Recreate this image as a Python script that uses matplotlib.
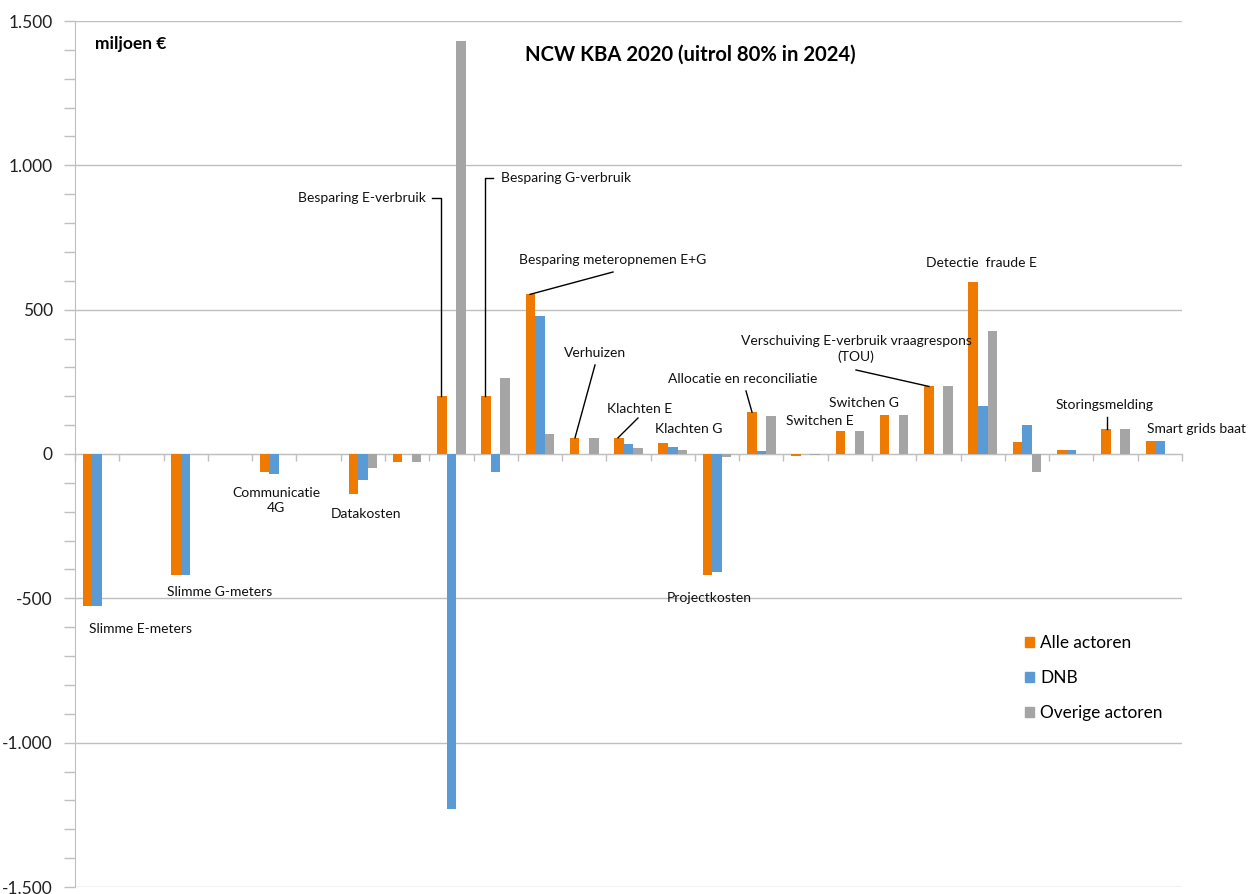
import matplotlib
matplotlib.use("Agg")
import matplotlib.pyplot as plt
from matplotlib.ticker import FixedLocator, FuncFormatter, MultipleLocator
from matplotlib.patches import Patch

plt.rcParams['font.family'] = ['Lato', 'DejaVu Sans']

# ---- data (25 category slots, left to right) ----
categories = ["Slimme E-meters", "", "Slimme G-meters", "", "Communicatie 4G", "",
              "Datakosten", "", "Besparing E-verbruik", "Besparing G-verbruik",
              "Besparing meteropnemen E+G", "Verhuizen", "Klachten E", "Klachten G",
              "Projectkosten", "Allocatie en reconciliatie", "Switchen E", "",
              "Switchen G", "Verschuiving E-verbruik vraagrespons (TOU)",
              "Detectie  fraude E", "", "", "Storingsmelding", "Smart grids baat"]
alle_actoren = [-525, 0, -420, 0, -64, 0, -140, -26, 200, 200, 553, 56, 56, 38,
                -420, 145, -6, 78, 135, 234, 597, 41, 14, 85, 45]
dnb = [-527, 0, -420, 0, -70, 0, -90, 0, -1230, -63, 478, 0, 33, 25,
       -408, 10, 0, 0, 0, 0, 167, 99, 14, 0, 45]
overige_actoren = [0, 0, 0, 0, 0, 0, -48, -26, 1430, 262, 71, 56, 21, 13,
                   -9, 131, -5, 78, 135, 234, 425, -61, 0, 85, 0]
series_names = ["Alle actoren", "DNB", "Overige actoren"]
y_ticks = [-1500, -1000, -500, 0, 500, 1000, 1500]
title = "NCW KBA 2020 (uitrol 80% in 2024)"
unit_label = "miljoen €"

C_OR = "#EF7A00"
C_BL = "#5B9BD5"
C_GR = "#A5A5A5"
GRID = "#BFBFBF"

W, H = 1250, 894
fig = plt.figure(figsize=(W / 100, H / 100), dpi=100)
L, R, T, B = 75, 1182, 21, 887
ax = fig.add_axes([L / W, 1 - B / H, (R - L) / W, (B - T) / H])

n = len(categories)
xs = list(range(n))
bw = 0.215
ax.bar([x - bw for x in xs], alle_actoren, bw, color=C_OR, label=series_names[0], zorder=3)
ax.bar(xs, dnb, bw, color=C_BL, label=series_names[1], zorder=3)
ax.bar([x + bw for x in xs], overige_actoren, bw, color=C_GR, label=series_names[2], zorder=3)

ax.set_xlim(-0.5, n - 0.5)
ax.set_ylim(-1500, 1500)

# y axis
ax.yaxis.set_major_locator(FixedLocator(y_ticks))
ax.yaxis.set_minor_locator(MultipleLocator(100))
ax.yaxis.set_major_formatter(FuncFormatter(lambda v, p: f"{int(v):,}".replace(",", ".")))
ax.tick_params(axis='y', which='both', direction='out', length=8, width=1, color=GRID,
               labelsize=12.5, labelcolor="#222222", pad=8)
ax.grid(axis='y', which='major', color=GRID, lw=1, zorder=0)

# x axis through zero, ticks at category boundaries
ax.spines['bottom'].set_position(('data', 0))
ax.spines['bottom'].set_color(GRID)
ax.spines['left'].set_color(GRID)
ax.spines['top'].set_visible(False)
ax.spines['right'].set_visible(False)
ax.xaxis.set_major_locator(FixedLocator([k - 0.5 for k in range(n + 1)]))
ax.tick_params(axis='x', which='both', direction='out', length=5, width=1, color=GRID,
               labelbottom=False)


def px(xp, yp):
    """pixel position -> data coords"""
    return (-0.5 + (xp - L) / (R - L) * n, 1500 - (yp - T) / (B - T) * 3000)


def lbl(xp, yp, s, ha='left', size=10):
    x, y = px(xp, yp)
    ax.text(x, y, s, ha=ha, va='center', fontsize=size, color="#111111", zorder=5,
            linespacing=1.3)


# titles
x0, y0 = px(690, 55)
ax.text(x0, y0, title, ha='center', va='center', fontsize=14.6, fontweight='bold')
x0, y0 = px(95, 44)
ax.text(x0, y0, unit_label, ha='left', va='center', fontsize=12.5, fontweight='bold')

# labels
lbl(89, 629, "Slimme E-meters")
lbl(167, 592, "Slimme G-meters")
lbl(276, 501, "Communicatie\n4G", ha='center')
lbl(331, 514, "Datakosten")
lbl(298, 198, "Besparing E-verbruik")
lbl(501, 178, "Besparing G-verbruik")
lbl(519, 260, "Besparing meteropnemen E+G")
lbl(564, 353, "Verhuizen")
lbl(607, 409, "Klachten E")
lbl(655, 429, "Klachten G")
lbl(667, 598, "Projectkosten")
lbl(668, 379, "Allocatie en reconciliatie")
lbl(786, 421, "Switchen E")
lbl(829, 403, "Switchen G")
lbl(856, 349, "Verschuiving E-verbruik vraagrespons\n(TOU)", ha='center')
lbl(926, 263, "Detectie  fraude E")
lbl(1056, 405, "Storingsmelding")
lbl(1147, 429, "Smart grids baat")

# leader lines (end at orange bar tops)
kw = dict(color='black', lw=1, zorder=6)
i = 8
xa, ya = px(432, 198); xb, _ = px(441, 198)
ax.plot([xa, xb, xb], [ya, ya, alle_actoren[i]], **kw)
i = 9
xa, ya = px(493, 178); xb, _ = px(485, 178)
ax.plot([xa, xb, xb], [ya, ya, alle_actoren[i]], **kw)
for (fx, fy, tx, i) in [(613, 272, 530, 10), (595, 365, 575, 11), (638, 418, 618, 12),
                        (746, 391, 752, 15), (856, 370, 929, 19), (1107, 417, 1107, 23)]:
    xa, ya = px(fx, fy)
    xb, _ = px(tx, 0)
    ax.plot([xa, xb], [ya, alle_actoren[i]], **kw)

# legend
handles = [Patch(color=c) for c in (C_OR, C_BL, C_GR)]
leg = ax.legend(handles, series_names, loc='upper left', frameon=False, fontsize=12.4,
                bbox_to_anchor=(1018 / W, 1 - 628 / H), bbox_transform=fig.transFigure,
                handlelength=0.5, handleheight=0.5, handletextpad=0.4,
                labelspacing=1.12, borderaxespad=0)

fig.savefig("out.png", dpi=100, facecolor="white")
